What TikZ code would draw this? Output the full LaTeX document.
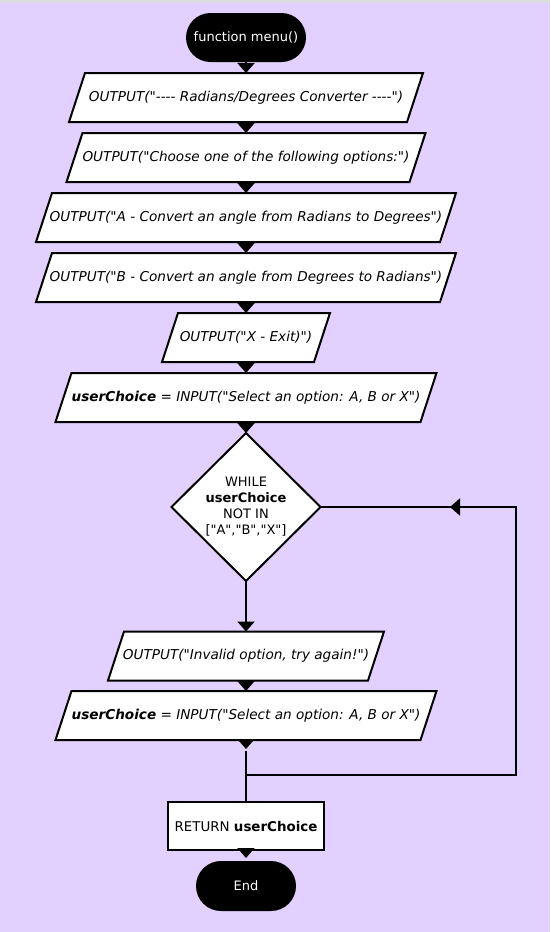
\documentclass[tikz,border=0pt]{standalone}
\usepackage{fontspec}
\newfontfamily\vf{DejaVu Sans}
\usetikzlibrary{arrows.meta,shapes.geometric,shapes.misc}
\pgfdeclarelayer{bg}
\pgfsetlayers{bg,main}
\definecolor{lav}{HTML}{E2D0FE}
\definecolor{topgrey}{HTML}{DCDCDC}
\newcommand\pgram[1]{\path[pg] ([xshift=8pt]#1.north west) -- ([xshift=8pt]#1.north east) -- ([xshift=-8pt]#1.south east) -- ([xshift=-8pt]#1.south west) -- cycle;}
\begin{document}
\begin{tikzpicture}[x=1pt,y=-1pt,
 txt/.style={font=\vf\fontsize{13.6}{16}\selectfont\itshape, inner sep=0pt, outer sep=0pt, minimum height=49pt},
 term/.style={rounded rectangle, fill=black, text=white, font=\vf\fontsize{13}{16}\selectfont, minimum height=49pt, inner sep=0pt, outer sep=0pt},
 rbox/.style={draw, line width=2pt, fill=white, minimum width=156pt, minimum height=48pt, inner sep=0pt, outer sep=0pt, font=\vf\fontsize{13.4}{16}\selectfont},
 dia/.style={diamond, draw, line width=2pt, fill=white, minimum width=149pt, minimum height=148pt, inner sep=0pt, outer sep=0pt},
 dtext/.style={font=\vf\fontsize{13}{16}\selectfont, align=center, inner sep=0pt},
 conn/.style={line width=2pt, -{Triangle[width=17pt,length=10pt]}},
 plain/.style={line width=2pt},
 pg/.style={draw, line width=2pt, fill=white, line join=miter}
]
\useasboundingbox (0,0) rectangle (550,932);
\begin{pgfonlayer}{bg}
\fill[lav] (0,0) rectangle (550,932);
\fill[topgrey] (0,0) rectangle (550,3);
\end{pgfonlayer}

\node[term, minimum width=120pt] (start) at (246,37.5) {function menu()};
\node[txt, minimum width=338pt] (b1) at (246,97.5) {OUTPUT("-{}-{}-{}- Radians/Degrees Converter -{}-{}-{}-")};
\node[txt, minimum width=343pt] (b2) at (246,157.5) {OUTPUT("Choose one of the following options:")};
\node[txt, minimum width=404pt] (b3) at (246,217.5) {OUTPUT("A - Convert an angle from Radians to Degrees")};
\node[txt, minimum width=404pt] (b4) at (246,277.5) {OUTPUT("B - Convert an angle from Degrees to Radians")};
\node[txt, minimum width=152pt] (b5) at (246,337.5) {OUTPUT("X - Exit)")};
\node[txt, minimum width=365pt] (b6) at (246,397.5) {{\bfseries userChoice} = INPUT("Select an option: A, B or X")};
\node[dia] (d) at (246,507) {};
\node[dtext] (dt) at (d.center) {WHILE\\\textbf{userChoice}\\NOT IN\\{}["A","B","X"]};
\node[txt, minimum width=260pt] (b7) at (246,656) {OUTPUT("Invalid option, try again!")};
\node[txt, minimum width=365pt] (b8) at (246,715.5) {{\bfseries userChoice} = INPUT("Select an option: A, B or X")};
\node[rbox] (ret) at (246,826) {RETURN \textbf{userChoice}};
\node[term, minimum width=100pt, minimum height=50pt] (end) at (246,886) {End};

\begin{pgfonlayer}{bg}
\pgram{b1}\pgram{b2}\pgram{b3}\pgram{b4}\pgram{b5}\pgram{b6}\pgram{b7}\pgram{b8}
\end{pgfonlayer}

\coordinate (m) at (246,749);
\coordinate (j) at (246,775);
\coordinate (cR) at (516,775);
\coordinate (cT) at (516,507);
\coordinate (atip) at (450,507);

\draw[conn] (start) -- (b1);
\draw[conn] (b1) -- (b2);
\draw[conn] (b2) -- (b3);
\draw[conn] (b3) -- (b4);
\draw[conn] (b4) -- (b5);
\draw[conn] (b5) -- (b6);
\draw[conn] (b6) -- (d);
\draw[conn] (d) -- (b7);
\draw[conn] (b7) -- (b8);
\draw[conn] (b8) -- (m);
\draw[plain, shorten <=2pt] (m) -- (ret);
\draw[conn, shorten >=3pt] (ret) -- (end);
\draw[plain] (j) -- (cR) -- (cT) -- (d.east);
\draw[conn] (cT) -- (atip);
\end{tikzpicture}
\end{document}
